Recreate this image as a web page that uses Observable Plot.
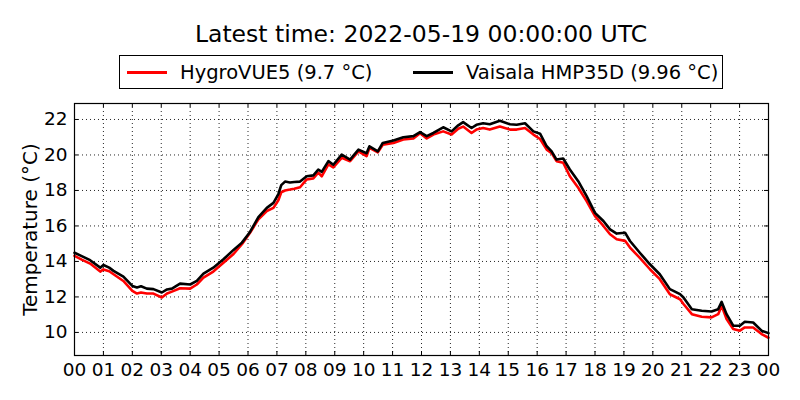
<!DOCTYPE html>
<html>
<head>
<meta charset="utf-8">
<script src="https://cdn.jsdelivr.net/npm/d3@7"></script>
<script src="https://cdn.jsdelivr.net/npm/@observablehq/plot@0.6"></script>
<style>
  body { margin: 0; background: #fff; font-family: "DejaVu Sans", sans-serif; }
  #wrap { position: relative; width: 800px; height: 400px; overflow: hidden; }
  #title { position: absolute; left: 21px; width: 800px; top: 20px; text-align: center; font-size: 23.5px; color: #000; }
  #legend { position: absolute; left: 119px; top: 55px; width: 602px; height: 32px; border: 1px solid #000; background: #fff; font-size: 19.5px; }
  .item { position: absolute; top: 0; height: 32px; display: flex; align-items: center; white-space: nowrap; }
  .swatch { width: 40px; height: 0; border-top: 3px solid; margin-right: 13px; }
  #chart { position: absolute; left: 0; top: 0; }
</style>
</head>
<body>
<div id="wrap">
  <div id="chart"></div>
  <div id="title"></div>
  <div id="legend"></div>
</div>
<script>
const titleText = "Latest time: 2022-05-19 00:00:00 UTC";
const seriesNames = ["HygroVUE5 (9.7 °C)", "Vaisala HMP35D (9.96 °C)"];
const seriesColors = ["#ff0000", "#000000"];
const yLabel = "Temperature (°C)";
const xTicks = d3.range(0, 25, 1);
const yTicks = [10, 12, 14, 16, 18, 20, 22];

const hours = [0.00,0.25,0.54,0.89,1.00,1.20,1.35,1.69,2.00,2.16,2.30,2.50,2.73,3.02,3.20,3.37,3.65,4.00,4.23,4.46,4.80,5.15,5.50,5.79,6.07,6.36,6.65,6.88,7.05,7.15,7.28,7.45,7.60,7.80,8.03,8.26,8.43,8.55,8.78,8.95,9.24,9.53,9.82,10.10,10.20,10.49,10.66,11.03,11.37,11.72,11.95,12.18,12.41,12.75,13.04,13.27,13.44,13.73,13.90,14.13,14.36,14.71,15.06,15.29,15.58,15.87,16.10,16.33,16.50,16.67,16.90,17.13,17.42,17.71,18.00,18.29,18.52,18.75,19.04,19.21,19.55,19.90,20.24,20.59,20.94,21.06,21.35,21.69,22.03,22.26,22.38,22.55,22.78,23.01,23.18,23.47,23.76,24.00];
const vaisala = [14.49,14.30,14.07,13.65,13.80,13.65,13.47,13.15,12.62,12.53,12.60,12.47,12.44,12.25,12.42,12.47,12.75,12.70,12.90,13.31,13.65,14.12,14.65,15.06,15.66,16.50,17.02,17.30,17.80,18.30,18.50,18.45,18.48,18.50,18.80,18.85,19.18,19.05,19.65,19.45,20.02,19.74,20.30,20.10,20.49,20.20,20.68,20.81,21.00,21.06,21.29,21.06,21.24,21.56,21.33,21.67,21.85,21.52,21.70,21.79,21.73,21.93,21.73,21.70,21.79,21.33,21.20,20.49,20.20,19.74,19.80,19.18,18.52,17.68,16.74,16.28,15.81,15.57,15.62,15.15,14.49,13.84,13.28,12.44,12.16,11.97,11.31,11.22,11.18,11.31,11.72,11.03,10.38,10.38,10.60,10.56,10.10,9.96];
const hygro = [14.31,14.10,13.88,13.43,13.55,13.45,13.28,12.90,12.34,12.19,12.25,12.19,12.19,11.97,12.19,12.30,12.49,12.47,12.70,13.09,13.43,13.93,14.42,14.97,15.62,16.37,16.84,17.02,17.45,17.90,18.00,18.05,18.10,18.18,18.62,18.68,19.00,18.80,19.47,19.30,19.84,19.65,20.20,19.93,20.40,20.15,20.58,20.68,20.87,20.93,21.23,20.93,21.15,21.33,21.15,21.48,21.60,21.24,21.43,21.52,21.43,21.60,21.43,21.43,21.52,21.15,20.90,20.30,20.10,19.65,19.56,18.80,18.15,17.40,16.55,16.00,15.53,15.25,15.16,14.78,14.20,13.56,13.00,12.15,11.87,11.60,11.03,10.88,10.85,11.03,11.50,10.75,10.19,10.10,10.28,10.28,9.91,9.70];

const rows = [];
hours.forEach((h, i) => {
  rows.push({hour: h, temp: hygro[i], series: seriesNames[0]});
});
hours.forEach((h, i) => {
  rows.push({hour: h, temp: vaisala[i], series: seriesNames[1]});
});

document.getElementById("title").textContent = titleText;
const legend = document.getElementById("legend");
const lefts = [7, 293];
seriesNames.forEach((name, i) => {
  const it = document.createElement("div");
  it.className = "item";
  it.style.left = lefts[i] + "px";
  const sw = document.createElement("div");
  sw.className = "swatch";
  sw.style.borderTopColor = seriesColors[i];
  const tx = document.createElement("span");
  tx.textContent = name;
  it.appendChild(sw); it.appendChild(tx);
  legend.appendChild(it);
});

const W = 800, H = 400, mL = 74, mR = 32, mT = 103, mB = 45;
const innerW = W - mL - mR, innerH = H - mT - mB, tickLen = 4;

const plot = Plot.plot({
  width: W,
  height: H,
  marginLeft: mL,
  marginRight: mR,
  marginTop: mT,
  marginBottom: mB,
  style: {fontFamily: "DejaVu Sans, sans-serif", fontSize: "18.5px", color: "#000", background: "transparent", overflow: "visible"},
  x: {domain: [0, 24]},
  y: {domain: [8.7, 22.9]},
  color: {domain: seriesNames, range: seriesColors},
  marks: [
    Plot.gridX(xTicks, {stroke: "#000", strokeOpacity: 0.85, strokeDasharray: "1,3", strokeWidth: 1}),
    Plot.gridY(yTicks, {stroke: "#000", strokeOpacity: 0.85, strokeDasharray: "1,3", strokeWidth: 1}),
    Plot.tickX(xTicks, {x: d => d, stroke: "#000", insetBottom: innerH - tickLen}),
    Plot.tickX(xTicks, {x: d => d, stroke: "#000", insetTop: innerH - tickLen}),
    Plot.tickY(yTicks, {y: d => d, stroke: "#000", insetRight: innerW - tickLen}),
    Plot.tickY(yTicks, {y: d => d, stroke: "#000", insetLeft: innerW - tickLen}),
    Plot.axisX({ticks: xTicks, tickSize: 0, tickPadding: 7, tickFormat: d => String(d % 24).padStart(2, "0"), label: null}),
    Plot.axisY({ticks: yTicks, tickSize: 0, tickPadding: 7, label: null}),
    Plot.text([yLabel], {frameAnchor: "left", text: d => d, rotate: -90, dx: -44, fontSize: 20, textAnchor: "middle"}),
    Plot.line(rows, {x: "hour", y: "temp", z: "series", stroke: "series", strokeWidth: 2.6, strokeLinejoin: "round"}),
    Plot.frame({stroke: "#000", strokeWidth: 1.2})
  ]
});
document.getElementById("chart").appendChild(plot);
</script>
</body>
</html>
